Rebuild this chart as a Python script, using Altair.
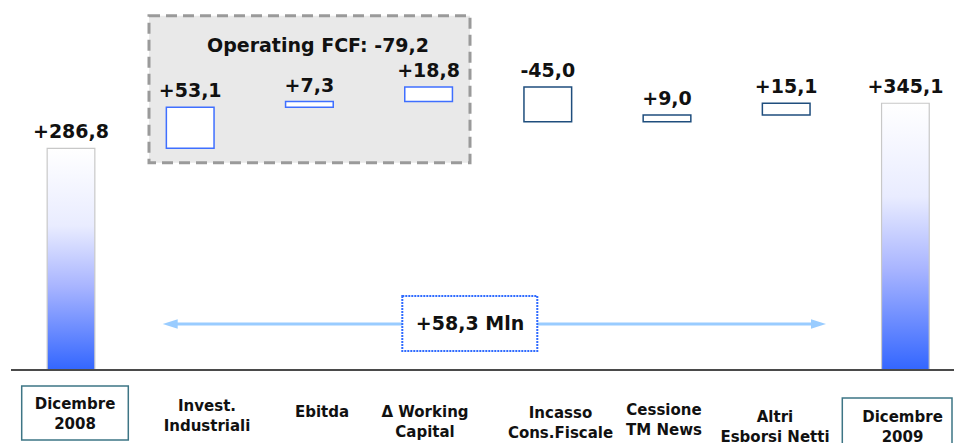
import altair as alt
import pandas as pd

# ---- data -------------------------------------------------------------
category_lines = [
    ["Dicembre", "2008"],
    ["Invest.", "Industriali"],
    ["Ebitda"],
    ["Δ  Working", "Capital"],
    ["Incasso", "Cons.Fiscale"],
    ["Cessione", "TM News"],
    ["Altri", "Esborsi Netti"],
    ["Dicembre", "2009"],
]
values = [286.8, 53.1, 7.3, 18.8, -45.0, 9.0, 15.1, 345.1]
kinds = ["total", "step", "step", "step", "step", "step", "step", "total"]
groups = ["saldo", "operating", "operating", "operating", "altro", "altro", "altro", "saldo"]
operating_fcf = -79.2
net_change = 58.3

# ---- layout -----------------------------------------------------------
W, H = 954, 443
STEP = 119.2          # px per category
X0 = 71.0             # px centre of first category
BASE = 370.0          # px of zero line
PPU = 0.773           # px per unit

def ux(px):
    return (px - X0) / STEP

def uy(py):
    return (BASE - py) / PPU

xscale = alt.Scale(domain=[ux(0), ux(W)], nice=False, zero=False)
yscale = alt.Scale(domain=[uy(H), uy(0)], nice=False, zero=False)

def X(f):
    return alt.X(f, type="quantitative", scale=xscale, axis=None)

def X2(f):
    return alt.X2(f)

def Y(f):
    return alt.Y(f, type="quantitative", scale=yscale, axis=None)

FONT = "DejaVu Sans"
HALF = 0.2            # half bar width in category units

# label placement under the axis (px centres of first line)
label_cx = [75, 207, 322, 425, 560.5, 664, 775, 902.5]
label_cy = [404, 406, 412, 411.5, 413, 410, 416.5, 416.5]
label_gap = 20
boxes_px = [(21.7, 386, 128.3, 440), (842.3, 398, 952, 460)]

def fmt(v):
    return f"{v:+.1f}".replace(".", ",")

# ---- waterfall table --------------------------------------------------
rows = []
level = 0.0
for i, (v, k, g) in enumerate(zip(values, kinds, groups)):
    if k == "total":
        start, end = 0.0, v
        level = v
    else:
        start, end = level, level + v
        level = end
    rows.append(dict(i=i, x1=i - HALF, x2=i + HALF, y1=start, y2=end,
                     top=max(start, end), kind=k, grp=g, label=fmt(v)))
wf = pd.DataFrame(rows)

lab_rows = []
for i, lines in enumerate(category_lines):
    for j, t in enumerate(lines):
        lab_rows.append(dict(lx=ux(label_cx[i]), ly=uy(label_cy[i] + j * label_gap), t=t))
labels = pd.DataFrame(lab_rows)

# ---- layers -----------------------------------------------------------
op_box = alt.Chart(pd.DataFrame([dict(a=ux(149), b=ux(470), c=uy(162.7), d=uy(15.7))])).mark_rect(
    fill="#e9e9e9", stroke="#9a9a9a", strokeWidth=3, strokeDash=[11, 6]
).encode(x=X("a"), x2=X2("b"), y=Y("c"), y2=alt.Y2("d"))

op_text = alt.Chart(pd.DataFrame([dict(x=ux(318), y=uy(46), t=f"Operating FCF: {fmt(operating_fcf)}".replace("+", ""))])).mark_text(
    font=FONT, fontWeight="bold", fontSize=19, color="#111111", baseline="middle"
).encode(x=X("x"), y=Y("y"), text="t:N")

gradient = alt.Gradient(
    gradient="linear",
    stops=[
        alt.GradientStop(color="#ffffff", offset=0),
        alt.GradientStop(color="#e9ecff", offset=0.35),
        alt.GradientStop(color="#a9b5ff", offset=0.62),
        alt.GradientStop(color="#3366ff", offset=1),
    ],
    x1=0, x2=0, y1=0, y2=1,
)

totals = alt.Chart(wf).transform_filter("datum.kind == 'total'").mark_rect(
    fill=gradient, stroke="#c8c8c8", strokeWidth=1.2
).encode(x=X("x1"), x2=X2("x2"), y=Y("y1"), y2=alt.Y2("y2"))

steps = alt.Chart(wf).transform_filter("datum.kind == 'step'").mark_rect(
    fill="white", strokeWidth=1.5
).encode(
    x=X("x1"), x2=X2("x2"), y=Y("y1"), y2=alt.Y2("y2"),
    stroke=alt.Stroke("grp:N", scale=alt.Scale(domain=["operating", "altro"],
                                               range=["#3f6fff", "#1f4e7d"]), legend=None),
)

value_text = alt.Chart(wf).mark_text(
    font=FONT, fontWeight="bold", fontSize=19, color="#111111", baseline="alphabetic", dy=-10
).encode(x=X("i"), y=Y("top"), text="label:N")

baseline = alt.Chart(pd.DataFrame([dict(a=ux(11), b=ux(W), y=0.0)])).mark_rule(
    color="#4a4a4a", strokeWidth=2
).encode(x=X("a"), x2=X2("b"), y=Y("y"))

arrow_y = uy(324)
arrow = alt.Chart(pd.DataFrame([dict(a=ux(170), b=ux(818), y=arrow_y)])).mark_rule(
    color="#99ccff", strokeWidth=3
).encode(x=X("a"), x2=X2("b"), y=Y("y"))

head_l = alt.Chart(pd.DataFrame([dict(x=ux(170.2), y=arrow_y)])).mark_point(
    shape="M -1 0 L 1 -0.62 L 1 0.62 Z", filled=True, size=225, color="#99ccff", opacity=1
).encode(x=X("x"), y=Y("y"))
head_r = alt.Chart(pd.DataFrame([dict(x=ux(818.5), y=arrow_y)])).mark_point(
    shape="M 1 0 L -1 -0.62 L -1 0.62 Z", filled=True, size=225, color="#99ccff", opacity=1
).encode(x=X("x"), y=Y("y"))

delta_box = alt.Chart(pd.DataFrame([dict(a=ux(402.3), b=ux(537.3), c=uy(351), d=uy(296))])).mark_rect(
    fill="white", stroke="#2f6bff", strokeWidth=2, strokeDash=[2, 1]
).encode(x=X("a"), x2=X2("b"), y=Y("c"), y2=alt.Y2("d"))

delta_text = alt.Chart(pd.DataFrame([dict(x=ux(470), y=uy(324), t=f"{fmt(net_change)} Mln")])).mark_text(
    font=FONT, fontWeight="bold", fontSize=19, color="#111111", baseline="middle"
).encode(x=X("x"), y=Y("y"), text="t:N")

cat_boxes = alt.Chart(pd.DataFrame([dict(a=ux(b[0]), c=uy(b[1]), b=ux(b[2]), d=uy(b[3])) for b in boxes_px])).mark_rect(
    fill="white", stroke="#3d7585", strokeWidth=1.5
).encode(x=X("a"), x2=X2("b"), y=Y("d"), y2=alt.Y2("c"))

cat_text = alt.Chart(labels).mark_text(
    font=FONT, fontWeight="bold", fontSize=15, color="#111111", baseline="middle"
).encode(x=X("lx"), y=Y("ly"), text="t:N")

chart = alt.layer(
    op_box, op_text, totals, steps, value_text, baseline,
    arrow, head_l, head_r, delta_box, delta_text, cat_boxes, cat_text,
).properties(
    width=W, height=H, padding=0, autosize=alt.AutoSizeParams(type="none"),
    background="white",
).configure_view(stroke=None)

chart.save("out.html", embed_options={"renderer": "svg", "actions": False})
